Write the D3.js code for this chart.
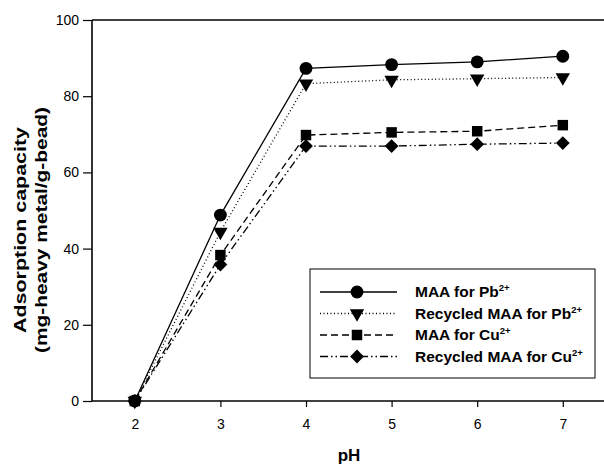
<!DOCTYPE html>
<html>
<head>
<meta charset="utf-8">
<script src="https://cdn.jsdelivr.net/npm/d3@7"></script>
<style>
  body { margin: 0; background: #fff; }
  text { font-family: "Liberation Sans", Arial, sans-serif; fill: #000; }
</style>
</head>
<body>
<div id="chart"></div>
<script>
// data
const phValues = [2, 3, 4, 5, 6, 7];
const maaPb = [0, 48.8, 87.3, 88.3, 89.0, 90.5];
const recycledPb = [0, 44.4, 83.3, 84.3, 84.6, 84.9];
const maaCu = [0, 38.3, 69.8, 70.5, 70.8, 72.4];
const recycledCu = [0, 35.8, 66.9, 66.9, 67.4, 67.7];
const xTicks = [2, 3, 4, 5, 6, 7];
const yTicks = [0, 20, 40, 60, 80, 100];

const seriesNames = ["MAA for Pb", "Recycled MAA for Pb", "MAA for Cu", "Recycled MAA for Cu"];
const seriesValues = [maaPb, recycledPb, maaCu, recycledCu];
const dashes = [null, "1,2.5", "7,4", "8,3,1.5,3,1.5,3"];
const shapes = [d3.symbolCircle, d3.symbolTriangle, d3.symbolSquare, d3.symbolSquare];
const sizes = [130, 90, 110, 95];
const rotations = [0, 180, 0, 45];

const W = 604, H = 465;

const svg = d3.select("#chart").append("svg")
    .attr("width", W)
    .attr("height", H);

const x = d3.scaleLinear().domain([1.5, 7.5]).range([92, 605.6]);
const y = d3.scaleLinear().domain([0, 100]).range([401, 20]);

// axes
svg.append("g")
    .attr("transform", "translate(0,401)")
    .call(d3.axisBottom(x).tickValues(xTicks).tickSize(6).tickPadding(12).tickFormat(d3.format("d")))
    .call(g => g.select(".domain").attr("stroke-width", 1.6).attr("d", "M92,0H605"))
    .call(g => g.selectAll(".tick line").attr("stroke-width", 1.2))
    .call(g => g.selectAll(".tick text").style("font-size", "14px").style("font-family", "Liberation Sans, Arial"));

svg.append("g")
    .attr("transform", "translate(92,0)")
    .call(d3.axisLeft(y).tickValues(yTicks).tickSize(9).tickPadding(4))
    .call(g => g.select(".domain").attr("stroke-width", 1.6).attr("d", "M0,401V20"))
    .call(g => g.selectAll(".tick line").attr("stroke-width", 1.2))
    .call(g => g.selectAll(".tick text").style("font-size", "14px").style("font-family", "Liberation Sans, Arial"));

// top frame line
svg.append("line")
    .attr("x1", 92).attr("x2", 605)
    .attr("y1", y(100)).attr("y2", y(100))
    .attr("stroke", "#000").attr("stroke-width", 1.6);

// axis titles
svg.append("text")
    .attr("x", 349).attr("y", 461)
    .attr("text-anchor", "middle")
    .style("font-size", "17px").style("font-weight", "bold")
    .text("pH");

const yTitle = svg.append("text")
    .attr("transform", "translate(0,230) rotate(-90)")
    .attr("text-anchor", "middle")
    .style("font-size", "17px").style("font-weight", "bold");
yTitle.append("tspan").attr("x", 0).attr("y", 26)
    .attr("textLength", 206).attr("lengthAdjust", "spacingAndGlyphs")
    .text("Adsorption capacity");
yTitle.append("tspan").attr("x", 0).attr("y", 47)
    .attr("textLength", 246).attr("lengthAdjust", "spacingAndGlyphs")
    .text("(mg-heavy metal/g-bead)");

// lines and markers
const line = d3.line()
    .x((d, i) => x(phValues[i]))
    .y(d => y(d));

seriesValues.forEach((vals, k) => {
    svg.append("path")
        .datum(vals)
        .attr("d", line)
        .attr("fill", "none")
        .attr("stroke", "#000")
        .attr("stroke-width", 1.3)
        .attr("stroke-dasharray", dashes[k]);
});

seriesValues.forEach((vals, k) => {
    svg.selectAll(".m" + k)
        .data(vals)
        .enter().append("path")
        .attr("class", "m" + k)
        .attr("transform", (d, i) => `translate(${x(phValues[i])},${y(d)}) rotate(${rotations[k]})`)
        .attr("d", d3.symbol().type(shapes[k]).size(sizes[k]))
        .attr("fill", "#000");
});

// legend
const legend = svg.append("g");
legend.append("rect")
    .attr("x", 310).attr("y", 269)
    .attr("width", 285).attr("height", 109)
    .attr("fill", "#fff")
    .attr("stroke", "#000")
    .attr("stroke-width", 1);

seriesNames.forEach((name, k) => {
    const ry = 292 + k * 21.5;
    legend.append("line")
        .attr("x1", 320).attr("x2", 397)
        .attr("y1", ry).attr("y2", ry)
        .attr("stroke", "#000").attr("stroke-width", 1.3)
        .attr("stroke-dasharray", dashes[k]);
    legend.append("path")
        .attr("transform", `translate(357,${ry}) rotate(${rotations[k]})`)
        .attr("d", d3.symbol().type(shapes[k]).size(sizes[k]))
        .attr("fill", "#000");
    const t = legend.append("text")
        .attr("x", 415).attr("y", ry + 5)
        .style("font-size", "15.5px").style("font-weight", "bold");
    t.append("tspan").text(name);
    t.append("tspan").attr("dy", -6).style("font-size", "9.5px").text("2+");
});
</script>
</body>
</html>
